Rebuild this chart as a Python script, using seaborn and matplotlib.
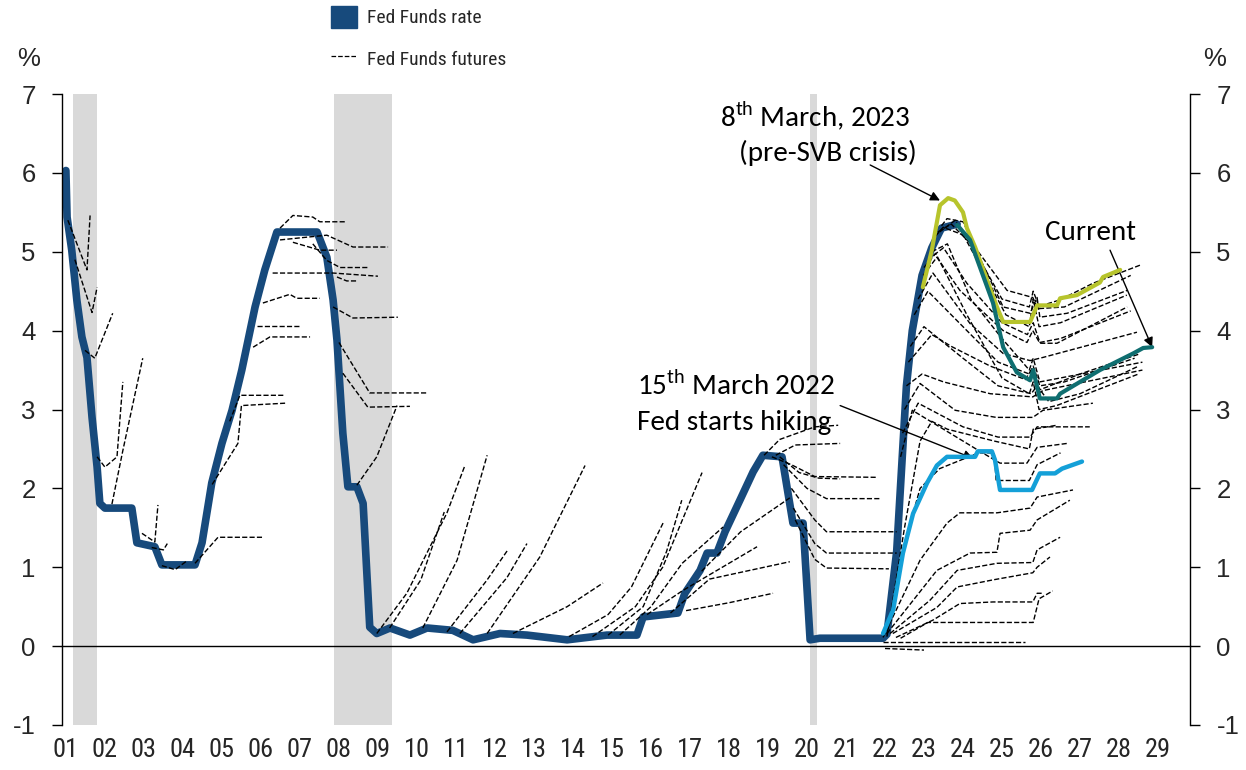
import pandas as pd
import matplotlib
matplotlib.use('Agg')
import matplotlib.pyplot as plt
from matplotlib.patches import Patch
from matplotlib.lines import Line2D
import seaborn as sns

# ---- data ----
fed_dates = [2001.0, 2001.03, 2001.15, 2001.28, 2001.41, 2001.54, 2001.67, 2001.8, 2001.87, 2002.0,
             2002.69, 2002.82, 2003.28, 2003.46, 2004.31, 2004.49, 2004.74, 2005.0, 2005.26, 2005.51,
             2005.85, 2006.1, 2006.41, 2007.44, 2007.69, 2007.85, 2007.95, 2008.1, 2008.23, 2008.46,
             2008.62, 2008.79, 2008.97, 2009.31, 2009.82, 2010.26, 2010.92, 2011.44, 2012.13, 2012.82,
             2013.85, 2014.87, 2015.64, 2015.8, 2016.69, 2016.87, 2017.26, 2017.44, 2017.69, 2017.9,
             2018.28, 2018.62, 2018.87, 2019.36, 2019.64, 2019.9, 2020.08, 2020.33, 2021.36, 2021.95,
             2022.05, 2022.3, 2022.55, 2022.7, 2022.95, 2023.2, 2023.45, 2023.85]
fed_rate = [6.03, 5.44, 5.02, 4.39, 3.92, 3.66, 2.9, 2.27, 1.81, 1.75,
            1.75, 1.31, 1.26, 1.03, 1.03, 1.31, 2.07, 2.57, 2.99, 3.5,
            4.3, 4.77, 5.25, 5.25, 4.93, 4.39, 3.88, 2.7, 2.02, 2.02,
            1.81, 0.24, 0.16, 0.23, 0.14, 0.23, 0.2, 0.08, 0.16, 0.14,
            0.08, 0.14, 0.14, 0.37, 0.42, 0.67, 0.96, 1.18, 1.18, 1.45,
            1.85, 2.21, 2.42, 2.40, 1.56, 1.56, 0.08, 0.1, 0.1, 0.1,
            0.15, 1.2, 3.3, 4.0, 4.7, 5.05, 5.3, 5.35]

futures_2001 = [
    [(2001.05, 5.4), (2001.54, 4.77), (2001.62, 5.46)],
    [(2001.23, 4.9), (2001.67, 4.23), (2001.8, 4.55)],
    [(2001.49, 3.75), (2001.74, 3.65), (2002.2, 4.22)],
    [(2001.8, 2.4), (2002.0, 2.27), (2002.31, 2.4), (2002.46, 3.35)],
    [(2002.18, 1.8), (2002.46, 2.48), (2002.97, 3.65)],
    [(2002.95, 1.43), (2003.28, 1.32), (2003.36, 1.79)],
    [(2003.2, 1.25), (2003.5, 1.22), (2003.6, 1.3)],
    [(2003.46, 1.02), (2003.8, 0.97), (2004.1, 1.08)],
    [(2004.31, 1.05), (2004.9, 1.38), (2006.03, 1.38)],
]
futures_2005 = [
    [(2004.75, 2.05), (2005.41, 2.57), (2005.5, 3.05), (2006.62, 3.08)],
    [(2005.2, 2.85), (2005.46, 3.18), (2006.62, 3.18)],
    [(2005.8, 3.79), (2006.23, 3.92), (2007.26, 3.92)],
    [(2005.9, 4.06), (2007.0, 4.06)],
    [(2006.05, 4.35), (2006.74, 4.46), (2006.92, 4.41), (2007.51, 4.41)],
    [(2006.3, 4.73), (2007.85, 4.73), (2009.0, 4.69)],
    [(2006.49, 5.3), (2006.82, 5.46), (2007.33, 5.44), (2007.51, 5.38), (2008.15, 5.38)],
    [(2006.49, 5.15), (2007.08, 5.18), (2007.69, 5.21), (2008.36, 5.06), (2009.26, 5.06)],
    [(2006.82, 5.12), (2007.51, 5.02), (2007.95, 5.02)],
    [(2007.33, 5.1), (2007.69, 4.89), (2008.03, 4.8), (2008.74, 4.8)],
    [(2007.95, 4.68), (2008.2, 4.63), (2008.49, 4.63)],
    [(2007.85, 4.3), (2008.36, 4.16), (2009.51, 4.17)],
    [(2008.0, 3.85), (2008.79, 3.21), (2010.28, 3.21)],
    [(2008.1, 3.46), (2008.74, 3.03), (2009.82, 3.04)],
    [(2008.46, 2.04), (2008.97, 2.4), (2009.49, 3.05)],
]
futures_2010 = [
    [(2008.97, 0.16), (2009.74, 0.67), (2010.77, 1.69), (2011.23, 2.29)],
    [(2009.3, 0.23), (2010.1, 0.84), (2010.7, 1.7)],
    [(2010.15, 0.23), (2011.03, 1.09), (2011.8, 2.42)],
    [(2010.77, 0.18), (2011.8, 0.84), (2012.33, 1.22)],
    [(2011.1, 0.16), (2012.31, 0.87), (2012.82, 1.3)],
    [(2011.8, 0.16), (2013.15, 1.13), (2014.31, 2.29)],
    [(2012.46, 0.16), (2013.85, 0.5), (2014.77, 0.8)],
]
futures_2016 = [
    [(2013.9, 0.12), (2014.9, 0.4), (2015.5, 0.75), (2016.31, 1.56)],
    [(2014.5, 0.12), (2015.6, 0.5), (2016.3, 1.0), (2017.31, 2.2)],
    [(2014.9, 0.14), (2015.8, 0.5), (2016.4, 1.2), (2016.79, 1.85)],
    [(2015.2, 0.14), (2016.0, 0.5), (2016.8, 1.05), (2017.85, 1.51)],
    [(2015.9, 0.4), (2016.8, 0.7), (2018.72, 1.26)],
    [(2016.5, 0.42), (2017.5, 0.85), (2019.56, 1.07)],
    [(2016.9, 0.45), (2018.0, 0.55), (2019.13, 0.67)],
    [(2017.3, 0.95), (2018.3, 1.45), (2019.56, 1.88)],
    [(2018.9, 2.42), (2019.3, 2.62), (2020.2, 2.78), (2020.8, 2.8)],
    [(2019.2, 2.42), (2019.7, 2.55), (2020.85, 2.57)],
    [(2019.1, 2.4), (2019.6, 2.3), (2020.2, 2.15), (2021.8, 2.14)],
    [(2019.3, 2.4), (2019.8, 2.2), (2020.3, 2.13), (2020.85, 2.12)],
    [(2019.4, 2.3), (2020.0, 2.0), (2020.5, 1.87), (2021.9, 1.87)],
    [(2019.6, 2.0), (2020.2, 1.6), (2020.5, 1.45), (2022.3, 1.45)],
    [(2019.65, 1.75), (2020.2, 1.3), (2020.5, 1.18), (2022.3, 1.18)],
    [(2019.7, 1.6), (2020.2, 1.1), (2020.5, 0.99), (2022.1, 0.98)],
]
futures_2022 = [
    [(2023.45, 5.33), (2023.59, 5.42), (2024.0, 5.38), (2024.36, 5.02), (2025.13, 4.51), (2025.79, 4.42),
     (2025.9, 4.3), (2026.49, 4.39), (2027.33, 4.6), (2028.54, 4.83)],
    [(2023.3, 5.2), (2023.49, 5.31), (2024.18, 5.18), (2025.03, 4.3), (2025.72, 4.22), (2025.9, 4.42),
     (2025.97, 4.17), (2026.67, 4.22), (2028.21, 4.51)],
    [(2023.4, 5.25), (2023.8, 5.4), (2024.3, 4.95), (2025.1, 4.2), (2025.7, 4.05), (2025.8, 4.4),
     (2025.95, 4.05), (2026.5, 4.1), (2028.2, 4.45)],
    [(2023.35, 5.25), (2023.7, 5.35), (2024.2, 5.1), (2025.0, 4.4), (2025.7, 4.3), (2025.8, 4.5),
     (2025.97, 4.28), (2026.6, 4.3), (2028.3, 4.7)],
    [(2022.98, 4.7), (2023.33, 4.93), (2023.92, 4.51), (2025.03, 4.0), (2025.64, 3.85), (2025.79, 4.0),
     (2025.97, 3.84), (2026.41, 3.84), (2028.21, 4.3)],
    [(2023.1, 4.9), (2023.5, 5.05), (2024.1, 4.6), (2025.0, 4.1), (2025.65, 3.95), (2025.8, 4.1),
     (2025.97, 3.85), (2026.5, 3.9), (2028.3, 4.25)],
    [(2023.2, 5.0), (2023.6, 5.1), (2024.2, 4.4), (2025.0, 3.9), (2025.7, 3.5), (2025.8, 3.65),
     (2025.97, 3.35), (2026.5, 3.4), (2028.6, 3.6)],
    [(2022.85, 4.4), (2023.23, 4.73), (2024.18, 4.09), (2025.03, 3.71), (2025.72, 3.62), (2026.05, 3.66),
     (2028.46, 3.98)],
    [(2023.0, 4.8), (2023.3, 4.98), (2024.1, 4.2), (2025.0, 3.4), (2025.7, 3.2), (2025.8, 3.35),
     (2025.95, 3.0), (2026.4, 3.05), (2028.5, 3.45)],
    [(2022.75, 4.2), (2023.1, 4.5), (2023.9, 4.1), (2024.9, 3.6), (2025.7, 3.45), (2025.8, 3.55),
     (2025.97, 3.3), (2026.6, 3.35), (2028.4, 3.65)],
    [(2022.6, 3.6), (2023.2, 3.95), (2023.7, 3.8), (2024.7, 3.55), (2025.6, 3.38), (2025.75, 3.5),
     (2025.97, 3.25), (2027.0, 3.45), (2028.5, 3.7)],
    [(2022.65, 3.8), (2023.0, 4.05), (2024.0, 3.65), (2024.9, 3.3), (2025.75, 3.2), (2025.9, 3.3),
     (2026.2, 3.1), (2027.0, 3.2), (2028.5, 3.55)],
    [(2022.55, 3.3), (2022.95, 3.45), (2023.5, 3.35), (2024.7, 3.2), (2025.79, 3.16), (2026.05, 3.24),
     (2028.6, 3.5)],
    [(2022.5, 3.0), (2022.9, 3.33), (2023.8, 2.99), (2024.85, 2.9), (2025.79, 2.9), (2026.05, 2.99),
     (2027.33, 3.08)],
    [(2022.45, 2.7), (2022.85, 3.08), (2024.0, 2.78), (2024.9, 2.65), (2025.72, 2.65), (2025.9, 2.78),
     (2027.25, 2.78)],
    [(2022.4, 2.4), (2022.7, 2.99), (2024.4, 2.48), (2024.95, 2.32), (2025.64, 2.32), (2025.9, 2.52),
     (2026.67, 2.57)],
    [(2022.05, 0.12), (2022.5, 1.5), (2022.9, 2.6), (2023.2, 2.85), (2023.6, 2.75), (2024.8, 2.6),
     (2025.7, 2.5), (2025.8, 2.75), (2026.4, 2.8)],
    [(2022.05, 0.15), (2022.5, 1.3), (2022.9, 2.0), (2023.4, 2.25), (2024.4, 2.45), (2024.8, 2.45),
     (2024.85, 2.1), (2025.7, 2.1), (2025.9, 2.3), (2026.5, 2.45)],
    [(2021.95, 0.11), (2022.9, 1.09), (2023.59, 1.56), (2023.92, 1.69), (2024.87, 1.69), (2025.72, 1.75),
     (2025.9, 1.89), (2026.82, 1.98)],
    [(2022.05, 0.16), (2023.33, 0.96), (2024.18, 1.18), (2024.87, 1.19), (2024.95, 1.43), (2025.72, 1.47),
     (2025.9, 1.6), (2026.74, 1.85)],
    [(2022.13, 0.16), (2023.15, 0.58), (2023.85, 0.96), (2024.87, 1.05), (2025.79, 1.06), (2025.9, 1.22),
     (2026.49, 1.38)],
    [(2022.2, 0.16), (2023.33, 0.49), (2023.85, 0.75), (2024.77, 0.84), (2025.79, 0.93), (2025.9, 1.0),
     (2026.23, 1.13)],
    [(2022.28, 0.11), (2023.23, 0.33), (2023.92, 0.54), (2024.77, 0.56), (2025.79, 0.56), (2025.9, 0.67),
     (2026.05, 0.67)],
    [(2022.4, 0.1), (2023.1, 0.3), (2025.8, 0.3), (2025.95, 0.6), (2026.3, 0.7)],
    [(2021.95, 0.05), (2025.6, 0.05)],
    [(2022.0, -0.03), (2023.0, -0.05)],
]

svb_dates = [2022.97, 2023.2, 2023.41, 2023.62, 2023.79, 2024.0, 2024.1, 2024.31, 2024.62, 2024.87,
             2025.03, 2025.72, 2025.9, 2026.41, 2026.49, 2026.92, 2027.51, 2027.59, 2028.03]
svb_rate = [4.55, 5.02, 5.59, 5.68, 5.65, 5.5, 5.3, 5.06, 4.64, 4.3,
            4.11, 4.11, 4.32, 4.32, 4.41, 4.45, 4.61, 4.68, 4.77]
current_dates = [2023.85, 2024.18, 2024.77, 2025.03, 2025.38, 2025.72, 2025.8, 2025.97, 2026.41, 2026.49,
                 2027.51, 2028.36, 2028.62, 2028.85]
current_rate = [5.34, 5.15, 4.35, 3.79, 3.47, 3.37, 3.5, 3.14, 3.14, 3.2,
                3.5, 3.71, 3.78, 3.79]
hike_dates = [2021.95, 2022.21, 2022.46, 2022.72, 2023.08, 2023.33, 2023.59, 2024.31, 2024.38, 2024.74,
              2024.82, 2024.95, 2025.77, 2025.97, 2026.36, 2026.54, 2027.05]
hike_rate = [0.16, 0.46, 1.18, 1.68, 2.07, 2.29, 2.40, 2.40, 2.47, 2.47,
             2.36, 1.98, 1.98, 2.19, 2.19, 2.25, 2.34]

recessions = [(2001.18, 2001.8), (2007.87, 2009.36), (2020.08, 2020.25)]
years = list(range(2001, 2030))
year_labels = ['%02d' % (y - 2000) for y in years]

# ---- long table for the futures curves ----
rows = []
cid = 0
for group in [futures_2001, futures_2005, futures_2010, futures_2016, futures_2022]:
    for curve in group:
        for d, r in curve:
            rows.append({'curve': cid, 'date': d, 'rate': r})
        cid += 1
fut_df = pd.DataFrame(rows)

NAVY = '#174a7c'
LIGHT_BLUE = '#14a0d8'
TEAL = '#0f6e70'
LIME = '#b7c42c'
GREY = '#d9d9d9'
NARROW = ['Roboto Condensed', 'Liberation Sans']

sns.set_style('white')
plt.rcParams['font.family'] = ['Liberation Sans', 'DejaVu Sans']
plt.rcParams['axes.unicode_minus'] = False
plt.rcParams['mathtext.fontset'] = 'custom'
plt.rcParams['mathtext.rm'] = 'Carlito'

fig = plt.figure(figsize=(12.46, 7.7), dpi=100)
ax = fig.add_axes([62 / 1246, 1 - 725 / 770, (1190 - 62) / 1246, (725 - 94) / 770])

for a, b in recessions:
    ax.axvspan(a, b, color=GREY, lw=0, zorder=0)

sns.lineplot(x=fed_dates, y=fed_rate, ax=ax, color=NAVY, lw=5.5, estimator=None, sort=False,
             solid_joinstyle='round', solid_capstyle='round', zorder=2)
sns.lineplot(data=fut_df, x='date', y='rate', units='curve', estimator=None, ax=ax,
             color='black', lw=1.0, linestyle='--', legend=False, zorder=3)
sns.lineplot(x=hike_dates, y=hike_rate, ax=ax, color=LIGHT_BLUE, lw=3.2, estimator=None, sort=False, zorder=4)
sns.lineplot(x=svb_dates, y=svb_rate, ax=ax, color=LIME, lw=3.0, estimator=None, sort=False, zorder=4)
sns.lineplot(x=current_dates, y=current_rate, ax=ax, color=TEAL, lw=3.0, estimator=None, sort=False, zorder=4)

ax.set_xlim(2000.9, 2029.82)
ax.set_ylim(-1, 7)
ax.set_xlabel('')
ax.set_ylabel('')

# axes styling
ax.spines['top'].set_visible(False)
ax.spines['bottom'].set_position(('data', 0))
for s in ['left', 'right', 'bottom']:
    ax.spines[s].set_color('black')
    ax.spines[s].set_linewidth(1.0)
ax.set_xticks(years)
ax.set_xticklabels(year_labels, family=NARROW, fontsize=19)
ax.tick_params(axis='x', direction='out', length=6.5, width=1, pad=60, color='black')
ax.set_yticks(range(-1, 8))
ax.yaxis.set_ticks_position('both')
ax.tick_params(axis='y', which='both', direction='out', length=7, width=1, pad=12,
               labelsize=18.5, labelleft=True, labelright=True, color='black')

ax.text(-0.03, 1.055, '%', transform=ax.transAxes, fontsize=18.5, ha='center', va='center')
ax.text(1.022, 1.055, '%', transform=ax.transAxes, fontsize=18.5, ha='center', va='center')

# annotations
ann_font = dict(family='Carlito', fontsize=21, color='black')
arrow = dict(arrowstyle='-|>', color='black', lw=1, mutation_scale=14, shrinkA=0, shrinkB=0)
ax.text(2020.2, 6.72, r'8$^{\mathrm{th}}$ March, 2023', ha='center', va='center', **ann_font)
ax.text(2020.54, 6.25, '(pre-SVB crisis)', ha='center', va='center', **ann_font)
ax.annotate('', xy=(2023.41, 5.65), xytext=(2021.62, 6.1), arrowprops=arrow)
ax.text(2015.64, 3.31, r'15$^{\mathrm{th}}$ March 2022', ha='left', va='center', **ann_font)
ax.text(2015.64, 2.83, 'Fed starts hiking', ha='left', va='center', **ann_font)
ax.annotate('', xy=(2024.26, 2.38), xytext=(2020.85, 3.05), arrowprops=arrow)
ax.text(2027.26, 5.25, 'Current', ha='center', va='center', **ann_font)
ax.annotate('', xy=(2028.85, 3.79), xytext=(2027.77, 5.02), arrowprops=arrow)

# legend
handles = [Patch(facecolor=NAVY, edgecolor=NAVY),
           Line2D([], [], color='black', lw=0.9, linestyle='--')]
fig.legend(handles, ['Fed Funds rate', 'Fed Funds futures'], loc='upper left',
           bbox_to_anchor=(331 / 1246, 1 - 6 / 770), frameon=False, borderpad=0, borderaxespad=0,
           prop={'family': NARROW, 'size': 14},
           handlelength=1.35, handleheight=1.35, labelspacing=1.0, handletextpad=0.5)

fig.savefig('out.png', dpi=100)
